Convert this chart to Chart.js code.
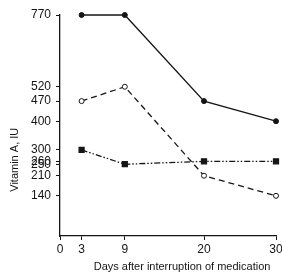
<!DOCTYPE html>
<html><head><meta charset="utf-8">
<script src="https://cdn.jsdelivr.net/npm/chart.js@4"></script>
<style>html,body{margin:0;padding:0;background:#fff}#w{width:282px;height:273px}</style>
</head><body><div id="w"><canvas id="c" width="282" height="273"></canvas></div>
<script>
const days = [3, 9, 20, 30];
const filledCircle = [770, 770, 470, 400];
const openCircle = [470, 520, 210, 140];
const filledSquare = [300, 250, 260, 260];
const xTicks = [0, 3, 9, 20, 30];
const yTicks = [140, 210, 250, 260, 300, 400, 470, 520, 770];
const yTitle = 'Vitamin A, IU';
const xTitle = 'Days after interruption of medication';

const ink = '#151515';
const font = {family: 'Liberation Sans, Arial, sans-serif', size: 12};
const pts = arr => arr.map((v, i) => ({x: days[i], y: v}));

const titlesPlugin = {
  id: 'titles',
  afterDraw(chart) {
    const ctx = chart.ctx;
    const a = chart.chartArea;
    ctx.save();
    ctx.font = '11px Liberation Sans, Arial, sans-serif';
    ctx.fillStyle = ink;
    ctx.textAlign = 'center';
    ctx.textBaseline = 'middle';
    ctx.fillText(xTitle, a.left + (a.right - a.left) * 0.565, a.bottom + 31);
    ctx.translate(15, a.top + (a.bottom - a.top) * 0.655);
    ctx.rotate(-Math.PI / 2);
    ctx.fillText(yTitle, 0, 0);
    ctx.restore();
  }
};

new Chart(document.getElementById('c'), {
  type: 'line',
  data: {
    datasets: [
      {data: pts(filledCircle), borderColor: ink, backgroundColor: ink, borderWidth: 1.3, clip: false,
       pointStyle: 'circle', pointRadius: 2.5, pointBackgroundColor: ink, pointBorderColor: ink, pointBorderWidth: 1},
      {data: pts(openCircle), borderColor: ink, backgroundColor: '#fff', borderWidth: 1.3, borderDash: [6, 4], clip: false,
       pointStyle: 'circle', pointRadius: 2.5, pointBackgroundColor: '#fff', pointBorderColor: ink, pointBorderWidth: 1},
      {data: pts(filledSquare), borderColor: ink, backgroundColor: ink, borderWidth: 1.3, borderDash: [6, 2, 1.5, 2, 1.5, 2], clip: false,
       pointStyle: 'rect', pointRadius: 3.5, pointBackgroundColor: ink, pointBorderColor: ink}
    ]
  },
  options: {
    responsive: false,
    animation: false,
    layout: {padding: {top: 15, right: 6, left: 0, bottom: 0}},
    plugins: {legend: {display: false}, tooltip: {enabled: false}},
    scales: {
      x: {
        type: 'linear', min: 0, max: 30,
        afterBuildTicks: s => { s.ticks = xTicks.map(v => ({value: v})); },
        afterFit: s => { s.height = 37; s.paddingRight = 0; s.paddingLeft = 0; },
        grid: {display: true, drawOnChartArea: false, drawTicks: true, tickLength: 4, color: ink},
        border: {display: true, color: ink, width: 1.3},
        ticks: {color: ink, font: font, padding: 2, autoSkip: false, maxRotation: 0},
        title: {display: false}
      },
      y: {
        type: 'linear', min: 0, max: 770,
        afterBuildTicks: s => { s.ticks = yTicks.map(v => ({value: v})); },
        afterFit: s => { s.width = 60; s.paddingTop = 0; s.paddingBottom = 0; },
        grid: {display: true, drawOnChartArea: false, drawTicks: true, tickLength: 4, color: ink},
        border: {display: true, color: ink, width: 1.3},
        ticks: {color: ink, font: font, padding: 5, autoSkip: false}
      }
    }
  },
  plugins: [titlesPlugin]
});
</script></body></html>
